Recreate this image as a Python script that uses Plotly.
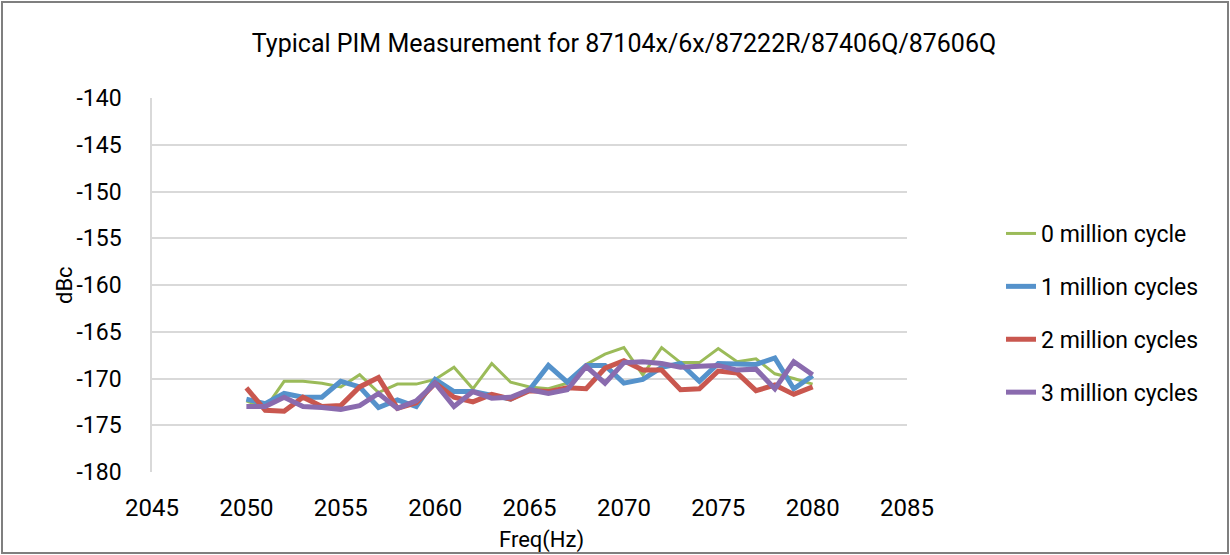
import plotly.graph_objects as go

freq = list(range(2050, 2081))

cycles_0 = [-172.4, -173.2, -170.3, -170.3, -170.5, -170.9, -169.6, -171.5, -170.6, -170.6,
            -170.1, -168.8, -171.1, -168.4, -170.4, -170.9, -171.1, -170.5, -168.5, -167.4,
            -166.7, -169.6, -166.7, -168.3, -168.3, -166.8, -168.2, -167.9, -169.5, -170.0,
            -170.6]
cycles_1 = [-172.2, -172.7, -171.6, -172.0, -172.0, -170.3, -170.9, -173.1, -172.3, -173.0,
            -170.1, -171.4, -171.4, -171.8, -172.2, -171.2, -168.6, -170.4, -168.6, -168.6,
            -170.5, -170.1, -168.8, -168.4, -170.3, -168.4, -168.4, -168.5, -167.8, -171.1,
            -169.7]
cycles_2 = [-171.0, -173.4, -173.5, -172.0, -173.0, -172.9, -170.9, -169.9, -173.2, -172.6,
            -170.5, -172.0, -172.5, -171.7, -172.2, -171.3, -171.4, -171.0, -171.1, -168.9,
            -168.1, -169.1, -169.1, -171.2, -171.1, -169.2, -169.4, -171.3, -170.7, -171.7,
            -170.9]
cycles_3 = [-173.0, -173.0, -172.0, -173.0, -173.1, -173.3, -172.9, -171.6, -173.2, -172.4,
            -170.5, -173.0, -171.4, -172.1, -172.0, -171.2, -171.6, -171.2, -168.7, -170.5,
            -168.3, -168.2, -168.4, -168.8, -168.7, -168.6, -169.1, -169.0, -171.1, -168.2,
            -169.6]

series_names = ["0 million cycle", "1 million cycles", "2 million cycles", "3 million cycles"]
series_values = [cycles_0, cycles_1, cycles_2, cycles_3]

x_ticks = list(range(2045, 2090, 5))
y_ticks = list(range(-180, -135, 5))
y_tick_labels = [str(v) for v in y_ticks]  # plain hyphen like the original

colors = ["#9BBB59", "#5592CB", "#C9574F", "#8A6BAE"]
widths = [3, 5, 5, 5]

FONT = "Roboto, sans-serif"

fig = go.Figure()
for name, vals, c, w in zip(series_names, series_values, colors, widths):
    fig.add_trace(go.Scatter(x=freq, y=vals, mode="lines", name=name,
                             legendgroup=name,
                             line=dict(color=c, width=w)))

W, H = 1230, 555
L, R, T, B = 152, 323, 98, 83
pw = W - L - R
ph = H - T - B


def px(xp):
    return (xp - L) / pw


def py(yp):
    return (H - B - yp) / ph


fig.update_layout(
    width=W, height=H,
    margin=dict(l=L, r=R, t=T, b=B),
    paper_bgcolor="white", plot_bgcolor="white",
    font=dict(family=FONT, size=23, color="#000000"),
    title=dict(text="Typical PIM Measurement for 87104x/6x/87222R/87406Q/87606Q",
               x=624 / W, xanchor="center", y=1 - 43 / H, yanchor="middle",
               font=dict(family=FONT, size=25, color="#000000")),
    showlegend=True,
    legend=dict(x=px(1001), xanchor="left", y=py(212), yanchor="top",
                font=dict(family=FONT, size=23, color="#000000"),
                tracegroupgap=20, bgcolor="rgba(0,0,0,0)"),
    xaxis=dict(range=[2045, 2085], tickvals=x_ticks,
               showgrid=False, zeroline=False, showline=False, ticks="",
               ticklabelstandoff=19, tickfont=dict(size=24)),
    yaxis=dict(range=[-180, -140], tickvals=y_ticks, ticktext=y_tick_labels,
               showgrid=True, gridcolor="#D9D9D9", gridwidth=1.5, zeroline=False,
               showline=True, linecolor="#D9D9D9", linewidth=1.5,
               ticks="", ticklabelstandoff=24, tickfont=dict(size=23)),
    annotations=[
        dict(text="Freq(Hz)", xref="paper", yref="paper", x=px(541), y=py(540),
             xanchor="center", yanchor="middle", showarrow=False,
             font=dict(family=FONT, size=22, color="#000000")),
        dict(text="dBc", xref="paper", yref="paper", x=px(64), y=py(285),
             xanchor="center", yanchor="middle", showarrow=False, textangle=-90,
             font=dict(family=FONT, size=22, color="#000000")),
    ],
)

# outer chart frame
fig.add_shape(type="rect", xref="paper", yref="paper",
              x0=px(2), x1=px(1228), y0=py(553), y1=py(2),
              line=dict(color="#7F7F7F", width=2), fillcolor="rgba(0,0,0,0)", layer="below")

fig.write_html("out.html", config={"displayModeBar": False},
               post_script="document.body.style.margin='0';document.body.style.overflow='hidden';")
